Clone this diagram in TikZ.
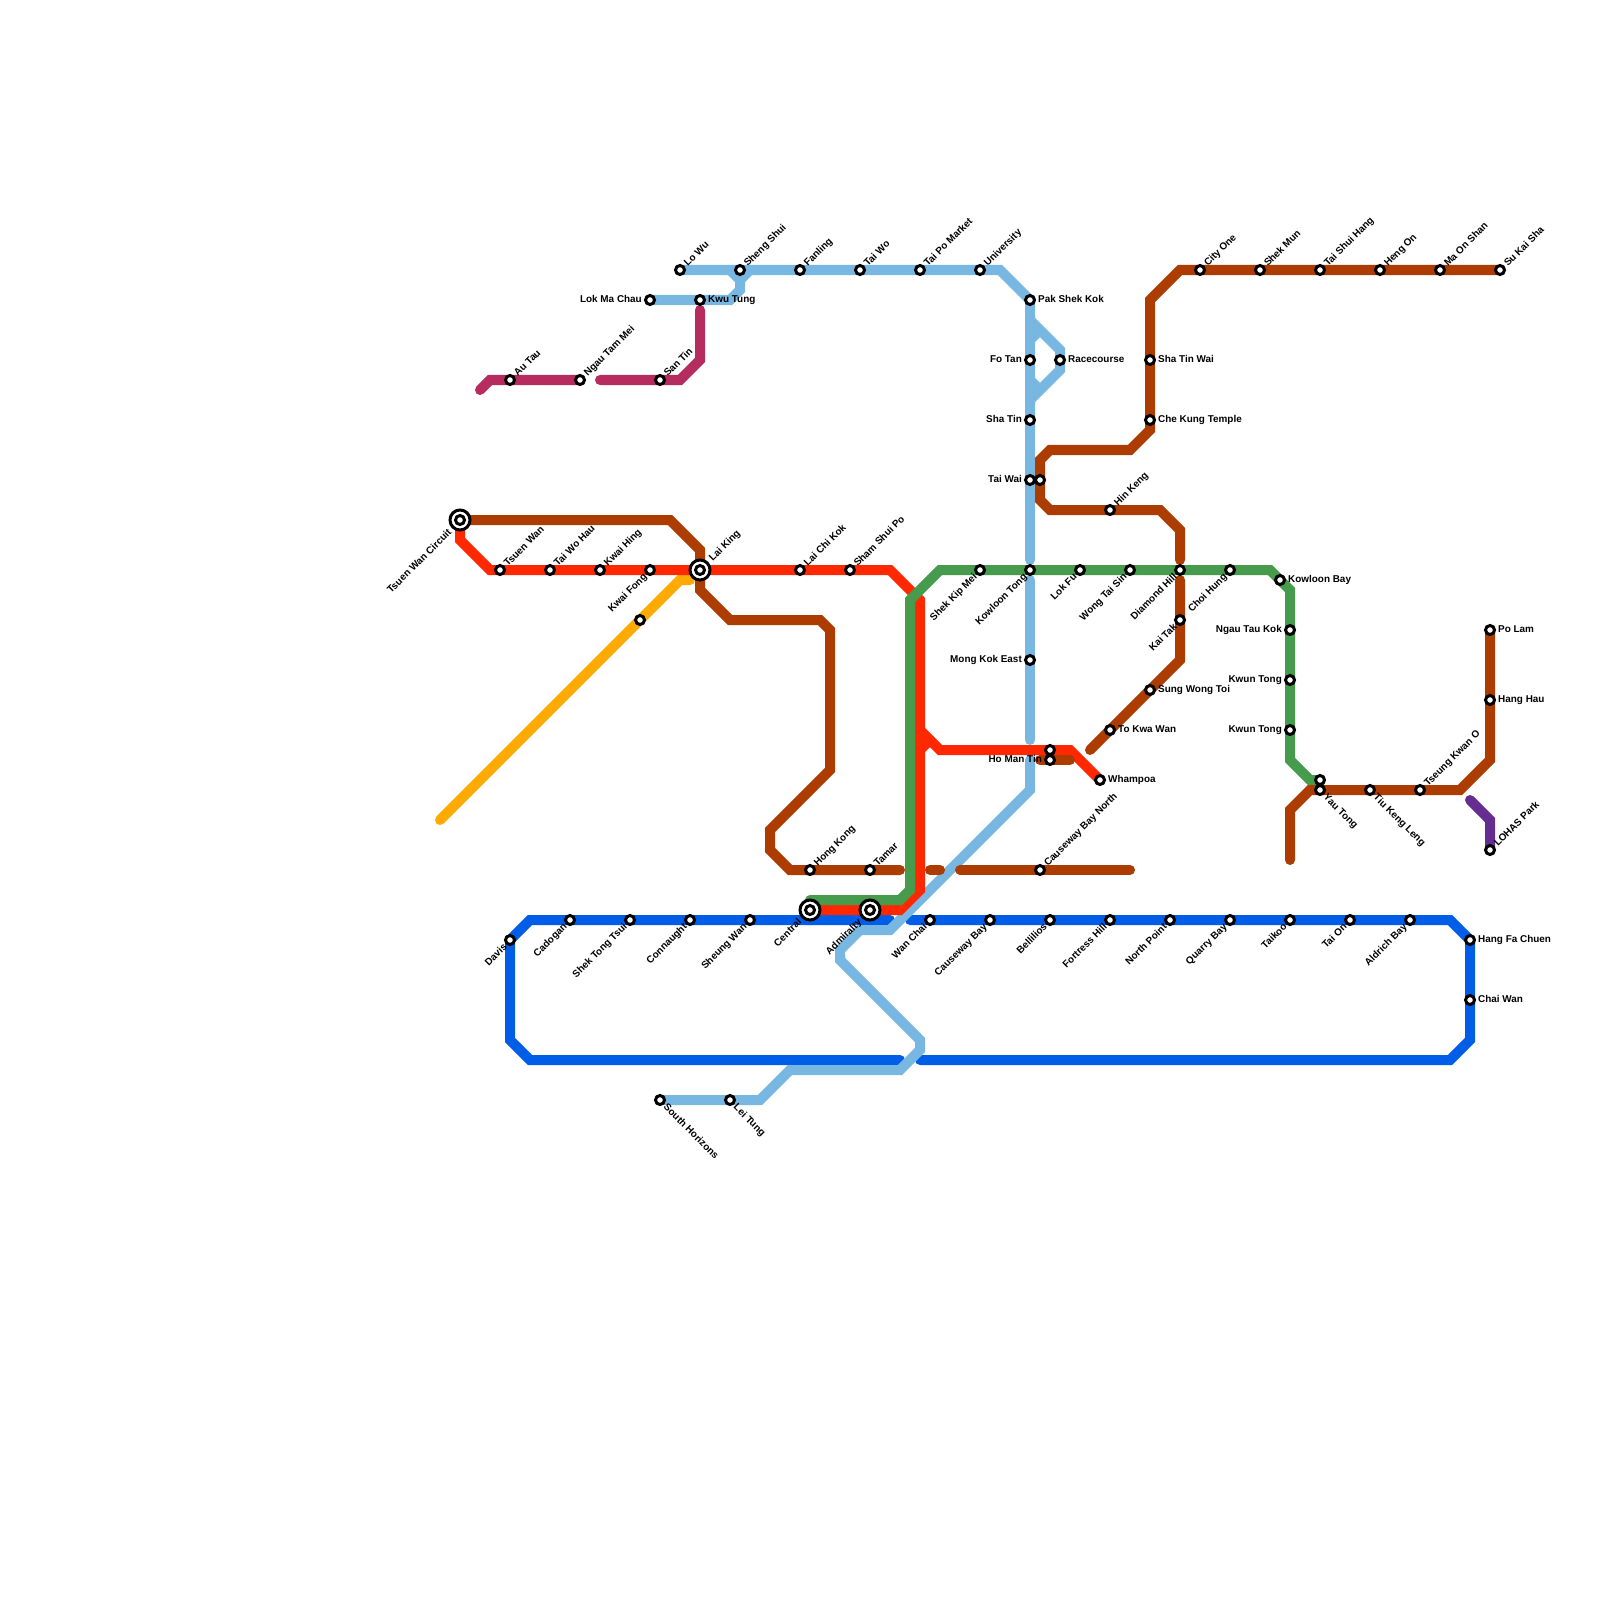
\documentclass[tikz,border=0pt]{standalone}
\usepackage{fontspec}
\setmainfont{Liberation Sans}
\pgfdeclarelayer{lines}
\pgfsetlayers{lines,main}
\definecolor{cbrown}{HTML}{AD3C00}
\definecolor{cred}{HTML}{FF2800}
\definecolor{cgreen}{HTML}{469B4D}
\definecolor{clight}{HTML}{79B7E3}
\definecolor{cblue}{HTML}{005DE8}
\definecolor{cmag}{HTML}{B72C5E}
\definecolor{corange}{HTML}{FFAA00}
\definecolor{cpurple}{HTML}{662D91}
\tikzset{
  x=0.01cm,y=-0.01cm,
  metro/.style={line width=0.1cm,line cap=round,line join=miter},
  brownline/.style={metro,draw=cbrown},
  redline/.style={metro,draw=cred},
  greenline/.style={metro,draw=cgreen},
  lightline/.style={metro,draw=clight},
  blueline/.style={metro,draw=cblue},
  magline/.style={metro,draw=cmag},
  orangeline/.style={metro,draw=corange},
  purpleline/.style={metro,draw=cpurple},
  stn/.style={circle,draw=black,fill=white,line width=0.03cm,minimum size=0.09cm,inner sep=0pt},
  hub/.style={circle,draw=black,fill=white,line width=0.03cm,minimum size=0.2cm,inner sep=0pt},
  lbl/.style={inner sep=0pt,text=black,font=\fontsize{2.82}{3.2}\selectfont\bfseries,text height=2.05pt,text depth=0.05pt},
  lbE/.style={lbl,anchor=west},
  lbW/.style={lbl,anchor=east},
  lbNE/.style={lbl,anchor=west,rotate=45},
  lbSW/.style={lbl,anchor=east,rotate=45},
  lbSE/.style={lbl,anchor=west,rotate=-45},
}
% name, x, y, label
\newcommand\stE[4]{\node[stn] (#1) at (#2,#3) {}; \path (#1.center) ++(7.5,-1) node[lbE] (#1-l) {#4};}
\newcommand\stW[4]{\node[stn] (#1) at (#2,#3) {}; \path (#1.center) ++(-7.5,-1) node[lbW] (#1-l) {#4};}
\newcommand\stNE[4]{\node[stn] (#1) at (#2,#3) {}; \path (#1.center) ++(5,-5) node[lbNE] (#1-l) {#4};}
\newcommand\stSW[4]{\node[stn] (#1) at (#2,#3) {}; \path (#1.center) ++(-4.5,4.5) node[lbSW] (#1-l) {#4};}
\newcommand\stSE[4]{\node[stn] (#1) at (#2,#3) {}; \path (#1.center) ++(5,5) node[lbSE] (#1-l) {#4};}
\newcommand\stP[3]{\node[stn] (#1) at (#2,#3) {};}
\newcommand\hubNE[4]{\node[hub] (#1-r) at (#2,#3) {}; \node[stn] (#1) at (#2,#3) {}; \path (#1.center) ++(10,-10) node[lbNE] (#1-l) {#4};}
\newcommand\hubSW[4]{\node[hub] (#1-r) at (#2,#3) {}; \node[stn] (#1) at (#2,#3) {}; \path (#1.center) ++(-10,10) node[lbSW] (#1-l) {#4};}
\begin{document}
\begin{tikzpicture}
\useasboundingbox (0,0) rectangle (1600,1600);
% --- stations
\stNE{lowu}{680}{270}{Lo Wu}
\stNE{shengshui}{740}{270}{Sheng Shui}
\stNE{fanling}{800}{270}{Fanling}
\stNE{taiwo}{860}{270}{Tai Wo}
\stNE{taipo}{920}{270}{Tai Po Market}
\stNE{university}{980}{270}{University}
\stW{lokma}{650}{300}{Lok Ma Chau}
\stE{kwutung}{700}{300}{Kwu Tung}
\stNE{autau}{510}{380}{Au Tau}
\stNE{ngautam}{580}{380}{Ngau Tam Mei}
\stNE{santin}{660}{380}{San Tin}
\stE{pakshek}{1030}{300}{Pak Shek Kok}
\stW{fotan}{1030}{360}{Fo Tan}
\stE{racecourse}{1060}{360}{Racecourse}
\stW{shatin}{1030}{420}{Sha Tin}
\stW{taiwai}{1030}{480}{Tai Wai}
\stP{taiwaib}{1040}{480}
\stNE{hinkeng}{1110}{510}{Hin Keng}
\stE{shatinwai}{1150}{360}{Sha Tin Wai}
\stE{chekung}{1150}{420}{Che Kung Temple}
\stNE{cityone}{1200}{270}{City One}
\stNE{shekmun}{1260}{270}{Shek Mun}
\stNE{taishui}{1320}{270}{Tai Shui Hang}
\stNE{hengon}{1380}{270}{Heng On}
\stNE{maonshan}{1440}{270}{Ma On Shan}
\stNE{sukai}{1500}{270}{Su Kai Sha}
\hubSW{tsuenc}{460}{520}{Tsuen Wan Circuit}
\stNE{tsuenwan}{500}{570}{Tsuen Wan}
\stNE{taiwohau}{550}{570}{Tai Wo Hau}
\stNE{kwaihing}{600}{570}{Kwai Hing}
\stSW{kwaifong}{650}{570}{Kwai Fong}
\stP{orangest}{640}{620}
\hubNE{laiking}{700}{570}{Lai King}
\stNE{laichi}{800}{570}{Lai Chi Kok}
\stNE{shamshui}{850}{570}{Sham Shui Po}
\stSW{shekkip}{980}{570}{Shek Kip Mei}
\stSW{kowloont}{1030}{570}{Kowloon Tong}
\stSW{lokfu}{1080}{570}{Lok Fu}
\stSW{wongtai}{1130}{570}{Wong Tai Sin}
\stSW{diamond}{1180}{570}{Diamond Hill}
\stSW{choihung}{1230}{570}{Choi Hung}
\stE{kowloonb}{1280}{580}{Kowloon Bay}
\stSW{kaitak}{1180}{620}{Kai Tak}
\stW{mongkok}{1030}{660}{Mong Kok East}
\stW{ngautau}{1290}{630}{Ngau Tau Kok}
\stW{kwuntonga}{1290}{680}{Kwun Tong}
\stW{kwuntongb}{1290}{730}{Kwun Tong}
\stE{sungwong}{1150}{690}{Sung Wong Toi}
\stE{tokwa}{1110}{730}{To Kwa Wan}
\stP{homanb}{1050}{750}
\stW{homan}{1050}{760}{Ho Man Tin}
\stE{whampoa}{1100}{780}{Whampoa}
\stP{yautongb}{1320}{780}
\stSE{yautong}{1320}{790}{Yau Tong}
\stSE{tiukeng}{1370}{790}{Tiu Keng Leng}
\stNE{tseung}{1420}{790}{Tseung Kwan O}
\stE{polam}{1490}{630}{Po Lam}
\stE{henghau}{1490}{700}{Hang Hau}
\stNE{lohas}{1490}{850}{LOHAS Park}
\stNE{hongkong}{810}{870}{Hong Kong}
\stNE{tamar}{870}{870}{Tamar}
\stNE{cwbnorth}{1040}{870}{Causeway Bay North}
\hubSW{central}{810}{910}{Central}
\hubSW{admiralty}{870}{910}{Admiralty}
\stSW{davis}{510}{940}{Davis}
\stSW{cadogan}{570}{920}{Cadogan}
\stSW{shektong}{630}{920}{Shek Tong Tsui}
\stSW{connaught}{690}{920}{Connaught}
\stSW{sheungwan}{750}{920}{Sheung Wan}
\stSW{wanchai}{930}{920}{Wan Chai}
\stSW{causeway}{990}{920}{Causeway Bay}
\stSW{bellilios}{1050}{920}{Bellilios}
\stSW{fortress}{1110}{920}{Fortress Hill}
\stSW{northpoint}{1170}{920}{North Point}
\stSW{quarry}{1230}{920}{Quarry Bay}
\stSW{taikoo}{1290}{920}{Taikoo}
\stSW{taion}{1350}{920}{Tai On}
\stSW{aldrich}{1410}{920}{Aldrich Bay}
\stE{hangfa}{1470}{940}{Hang Fa Chuen}
\stE{chaiwan}{1470}{1000}{Chai Wan}
\stSE{southh}{660}{1100}{South Horizons}
\stSE{leitung}{730}{1100}{Lei Tung}
% free line ends
\coordinate (orangeend) at (440,820);
\coordinate (orangestop) at (690,580);
\coordinate (magstart) at (480,390);
\coordinate (magstart2) at (600,380);
\coordinate (magend) at (700,310);
\coordinate (blueA) at (890,920);
\coordinate (blueB) at (910,920);
\coordinate (blueC) at (900,1060);
\coordinate (blueD) at (920,1060);
\coordinate (bhk) at (900,870);
\coordinate (bstubA) at (930,870);
\coordinate (bstubB) at (940,870);
\coordinate (bcbA) at (960,870);
\coordinate (bcbB) at (1130,870);
\coordinate (bsouthA) at (1090,750);
\coordinate (bhomanA) at (1040,760);
\coordinate (bhomanB) at (1070,760);
\coordinate (btko) at (1290,860);
\coordinate (bpurple) at (1470,800);
% --- lines
\begin{pgfonlayer}{lines}
\draw[orangeline] (orangeend) -- (orangest.center) -- (680,580) -- (orangestop);
\draw[blueline] (blueA) -- (530,920) -- (davis.center) -- (510,1040) -- (530,1060) -- (blueC);
\draw[blueline] (blueB) -- (1450,920) -- (hangfa.center) -- (1470,1040) -- (1450,1060) -- (blueD);
\draw[lightline] (lowu.center) -- (1000,270) -- (pakshek.center) -- (1030,560);
\draw[lightline] (1030,320) -- (1060,350) -- (1060,370) -- (1030,400);
\draw[lightline] (1030,340) -- (1040,330);
\draw[lightline] (1030,380) -- (1040,390);
\draw[lightline] (1030,580) -- (mongkok.center) -- (1030,740);
\draw[lightline] (1030,760) -- (1030,790) -- (890,930) -- (860,930) -- (840,950) -- (840,960) -- (920,1040) -- (920,1050) -- (900,1070) -- (790,1070) -- (760,1100) -- (southh.center);
\draw[lightline] (lokma.center) -- (730,300) -- (740,290) -- (740,280) -- (730,270);
\draw[lightline] (740,280) -- (750,270);
\draw[redline] (tsuenc.center) -- (460,540) -- (490,570) -- (890,570) -- (920,600) -- (920,890) -- (900,910) -- (central.center);
\draw[redline] (920,730) -- (940,750) -- (1070,750) -- (whampoa.center);
\draw[redline] (920,750) -- (930,740);
\draw[greenline] (810,900) -- (900,900) -- (910,890) -- (910,600) -- (940,570) -- (1270,570) -- (1290,590) -- (1290,760) -- (1310,780) -- (yautongb.center);
\draw[brownline] (tsuenc.center) -- (670,520) -- (700,550) -- (700,590) -- (730,620) -- (820,620) -- (830,630) -- (830,770) -- (770,830) -- (770,850) -- (790,870) -- (bhk);
\draw[brownline] (bstubA) -- (bstubB);
\draw[brownline] (bcbA) -- (bcbB);
\draw[brownline] (bsouthA) -- (1180,660) -- (1180,580);
\draw[brownline] (1180,560) -- (1180,530) -- (1160,510) -- (1050,510) -- (1040,500) -- (1040,460) -- (1050,450) -- (1130,450) -- (1150,430) -- (1150,300) -- (1180,270) -- (sukai.center);
\draw[brownline] (bhomanA) -- (bhomanB);
\draw[brownline] (btko) -- (1290,810) -- (1310,790) -- (1460,790) -- (1490,760) -- (polam.center);
\draw[magline] (magstart) -- (490,380) -- (ngautam.center);
\draw[magline] (magstart2) -- (680,380) -- (700,360) -- (magend);
\draw[purpleline] (bpurple) -- (1490,820) -- (lohas.center);
\end{pgfonlayer}
\end{tikzpicture}
\end{document}
